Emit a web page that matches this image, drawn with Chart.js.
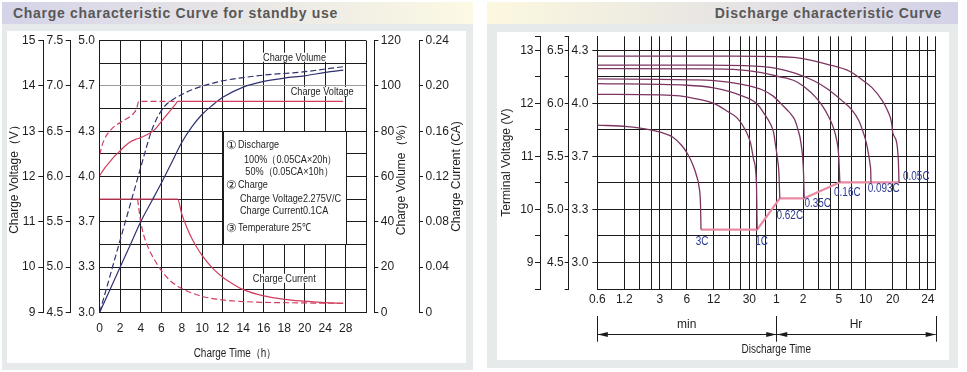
<!DOCTYPE html>
<html>
<head>
<meta charset="utf-8">
<title>Charge / discharge characteristic curves</title>
<script src="https://cdn.jsdelivr.net/npm/chart.js@4.4.1/dist/chart.umd.min.js"></script>
<style>
  html, body { margin: 0; padding: 0; background: #fff; }
  body { position: relative; width: 967px; height: 372px; overflow: hidden; font-family: 'Liberation Sans', Arial, sans-serif; }
  .frame { position: absolute; background: #e6eaea; }
  .head { position: absolute; height: 22px; line-height: 22px; font-size: 14px; font-weight: bold; color: #585858; letter-spacing: 0.7px; white-space: nowrap; }
  canvas { position: absolute; background: #fff; }
</style>
</head>
<body>
<div class="frame" style="left:2px;top:2px;width:471px;height:368px"></div>
<div class="head" style="left:2px;top:2px;width:460px;padding-left:11px;background:linear-gradient(90deg,#d4d3e8,#fcf9e4)">Charge characteristic Curve for standby use</div>
<canvas id="charge" width="459" height="332" style="left:7px;top:31px"></canvas>

<div class="frame" style="left:487px;top:2px;width:471px;height:366px"></div>
<div class="head" style="left:487px;top:2px;width:455px;padding-right:16px;text-align:right;background:linear-gradient(90deg,#fcf8df,#d2d1e7)">Discharge characteristic Curve</div>
<canvas id="discharge" width="452" height="328" style="left:497px;top:32px"></canvas>

<script>
// ---------- charge sheet: values ----------
const chargeHourTicks  = [0, 2, 4, 6, 8, 10, 12, 14, 16, 18, 20, 24, 28, 32];
const chargeHourLabels = ['0', '2', '4', '6', '8', '10', '12', '14', '16', '18', '20', '24', '28', ''];
const packVoltTicks  = [9, 10, 11, 12, 13, 14, 15];
const halfPackTicks  = [4.5, 5.0, 5.5, 6.0, 6.5, 7.0, 7.5];
const cellVoltLabels = ['3.0', '3.3', '3.7', '4.0', '4.3', '4.7', '5.0'];
const volumeTicks    = [0, 20, 40, 60, 80, 100, 120];
const currentTicks   = [0, 0.04, 0.08, 0.12, 0.16, 0.20, 0.24];
const currentLabels  = ['0', '0.04', '0.08', '0.12', '0.16', '0.20', '0.24'];

// charge voltage, 12 V block (solid = after 100% discharge, dashed = after 50%)
const voltFullH = [0, 0.5, 1, 1.5, 2, 2.5, 3, 3.5, 4, 4.5, 5, 5.5, 6, 6.5, 7, 7.4, 7.6, 27.5];
const voltFull  = [12.02, 12.19, 12.33, 12.46, 12.57, 12.68, 12.77, 12.82, 12.86, 12.91, 12.97, 13.07, 13.21, 13.35, 13.49, 13.6, 13.66, 13.66];
const voltHalfH = [0, 0.25, 0.5, 0.75, 1, 1.5, 2, 2.5, 3, 3.4, 3.6, 3.8, 7.6];
const voltHalf  = [12.48, 12.7, 12.84, 12.94, 13.01, 13.12, 13.19, 13.26, 13.33, 13.42, 13.5, 13.66, 13.66];
// charge volume, %
const volFullH = [0, 1, 2, 3, 4, 5, 6, 7, 8, 9, 10, 11, 12, 14, 16, 18, 20, 24, 27.5];
const volFull  = [0, 10, 20, 30, 40, 48.5, 57, 66, 75, 82, 87.5, 91.5, 95, 99.5, 102, 103.5, 104.5, 106, 107];
const volHalfH = [0, 1, 2, 3, 4, 4.5, 5, 5.5, 6, 6.5, 7, 8, 9, 10, 12, 14, 16, 20, 24, 27.5];
const volHalf  = [0, 16, 32, 48, 64, 72, 79.5, 85, 89, 91.8, 93.6, 96.2, 98.3, 99.9, 102.3, 103.7, 104.8, 106.3, 107.5, 108.5];
// charge current, CA
const curFullH = [0, 7.6, 8, 8.5, 9, 9.5, 10, 11, 12, 13, 14, 16, 18, 20, 24, 27.5];
const curFull  = [0.1, 0.1, 0.087, 0.075, 0.065, 0.057, 0.05, 0.039, 0.031, 0.025, 0.02, 0.0145, 0.0115, 0.0098, 0.0085, 0.008];
const curHalfH = [3.7, 3.8, 4, 4.3, 4.6, 5, 5.5, 6, 7, 8, 9, 10, 12, 14, 16, 20, 24, 27.5];
const curHalf  = [0.1, 0.093, 0.08, 0.068, 0.06, 0.052, 0.044, 0.037, 0.027, 0.021, 0.017, 0.014, 0.011, 0.0095, 0.0088, 0.0083, 0.008, 0.008];

// ---------- discharge sheet: minutes on the x axis, 12 V block volts ----------
const dischargeTickMinutes = [0.6, 1.2, 1.8, 2.4, 3, 4, 6, 12, 18, 24, 30, 36, 45, 60, 120, 180, 240, 300, 420, 600, 1200, 1290, 1380, 1440, 1500];
const dischargeTickText    = ['0.6', '1.2', '', '', '3', '', '6', '12', '', '', '30', '', '', '1', '2', '', '', '5', '', '10', '20', '', '', '24', ''];
const termTicks12  = [8.5, 9, 9.5, 10, 10.5, 11, 11.5, 12, 12.5, 13, 13.263];
const termLabels12 = ['', '9', '', '10', '', '11', '', '12', '', '13', ''];
const termTicks6   = [4.25, 4.5, 4.75, 5, 5.25, 5.5, 5.75, 6, 6.25, 6.5, 6.632];
const termLabels6  = ['', '4.5', '', '5.0', '', '5.5', '', '6.0', '', '6.5', ''];
const termTicks4   = [3.0, 3.333, 3.667, 4.0, 4.333];
const termLabels4  = ['3.0', '3.3', '3.7', '4.0', '4.3'];

const rateNames = ['3C', '1C', '0.62C', '0.35C', '0.16C', '0.093C', '0.05C'];
const t3C   = [0.6, 1.3, 2.2, 3.1, 4.2, 5.3, 6.2, 7.1, 7.7, 8.2, 8.55, 8.65];
const v3C   = [11.59, 11.56, 11.51, 11.45, 11.36, 11.2, 11.03, 10.82, 10.64, 10.44, 10.07, 9.62];
const t1C   = [0.6, 3, 5, 7.4, 12, 17.4, 22, 27, 31, 33.5, 36, 36.7];
const v1C   = [12.17, 12.16, 12.14, 12.09, 12.0, 11.84, 11.72, 11.5, 11.25, 10.94, 10.5, 9.62];
const t062C = [0.6, 6, 12, 24, 36, 45, 52, 56, 59, 62, 64.2, 65.7];
const v062C = [12.37, 12.34, 12.29, 12.15, 12.0, 11.78, 11.6, 11.45, 11.2, 10.95, 10.69, 10.21];
const t035C = [0.6, 8, 17.4, 30, 41, 55, 69, 80, 90, 97, 105, 113, 121, 123];
const v035C = [12.46, 12.44, 12.4, 12.33, 12.26, 12.14, 11.98, 11.87, 11.77, 11.68, 11.5, 11.26, 10.69, 10.21];
const t016C = [0.6, 10, 20, 41, 61, 97, 130, 162, 195, 229, 260, 283, 296, 303, 308];
const v016C = [12.655, 12.65, 12.64, 12.58, 12.51, 12.42, 12.28, 12.13, 11.96, 11.76, 11.55, 11.32, 11.1, 10.82, 10.51];
const t0093C = [0.6, 10, 26.7, 60, 97, 160, 229, 320, 417, 500, 563, 610, 640, 670, 683, 686];
const v0093C = [12.72, 12.72, 12.71, 12.66, 12.57, 12.42, 12.26, 12.06, 11.88, 11.68, 11.45, 11.25, 11.07, 10.85, 10.69, 10.51];
const t005C = [0.6, 20, 60, 100, 229, 400, 539, 700, 902, 1060, 1167, 1200, 1225, 1236, 1240];
const v005C = [12.89, 12.89, 12.88, 12.86, 12.73, 12.6, 12.45, 12.3, 12.07, 11.85, 11.63, 11.45, 11.26, 10.9, 10.51];
// end-of-discharge voltage for each rate
const cutoffMinutes = [8.65, 36.7, 65.7, 123, 308, 686, 1240];
const cutoffVolts   = [9.62, 9.62, 10.21, 10.21, 10.51, 10.51, 10.51];

const FONT = "'Liberation Sans', Arial, sans-serif";
const GRID = '#1b1b1b';
const INK = '#1e1e1e';
const RED = '#d23c5e';
const NAVY = '#2f3270';
const PLUM = '#7c3560';
const SQUEEZE = 0.83;   // the sheet uses a condensed face for its notes

Chart.defaults.font.family = FONT;
Chart.defaults.font.size = 12;
Chart.defaults.color = INK;

// both sheets use time axes that are not uniform: the charge one widens to 4 h per
// division after 20 h, the discharge one is logarithmic but stretched after 20 h
function knotScale(id, knotValues, knotShares, useLog) {
  const f = useLog ? Math.log10 : v => v;
  return class extends Chart.LinearScale {
    static id = id;
    static defaults = Chart.LinearScale.defaults;
    getPixelForValue(value) {
      let i = 1;
      while (i < knotValues.length - 1 && value > knotValues[i]) i++;
      const t = (f(value) - f(knotValues[i - 1])) / (f(knotValues[i]) - f(knotValues[i - 1]));
      return this.getPixelForDecimal(knotShares[i - 1] + t * (knotShares[i] - knotShares[i - 1]));
    }
  };
}
Chart.register(
  knotScale('chargeTime', [0, 20, 32], [0, 10 / 13, 1], false),
  knotScale('dischargeTime', [0.6, 1200, 1500], [0, 0.8729, 1], true)
);

function curve(xs, ys, axis, color, width, dashed) {
  return {
    data: xs.map((x, i) => ({ x, y: ys[i] })),
    yAxisID: axis,
    borderColor: color,
    borderWidth: width,
    borderDash: dashed ? [6, 3] : [],
    pointRadius: 0,
    fill: false,
    cubicInterpolationMode: 'monotone'
  };
}

function fixedTicks(values) {
  return axis => { axis.ticks = values.map(value => ({ value })); };
}

function sideAxis(position, weight, width, extra) {
  return Object.assign({
    type: 'linear', axis: 'y', position, weight,
    afterFit: a => { a.width = width; a.paddingTop = 0; a.paddingBottom = 0; },
    border: { color: GRID },
    grid: { drawOnChartArea: false, tickLength: 5, tickColor: GRID }
  }, extra);
}

// condensed text: draw squeezed horizontally around the anchor
function squeezed(ctx, text, x, y) {
  ctx.save();
  ctx.translate(x, y);
  ctx.scale(SQUEEZE, 1);
  ctx.fillText(text, 0, 0);
  ctx.restore();
}

// ---------------- charge chart ----------------
const chargeNotes = {
  id: 'chargeNotes',
  beforeDatasetsDraw(chart) {
    const { ctx, scales: { x, vol } } = chart;
    const l = Math.round(x.getPixelForValue(12)), r = Math.round(x.getPixelForValue(28));
    const t = Math.round(vol.getPixelForValue(80)), b = Math.round(vol.getPixelForValue(30));
    ctx.save();
    ctx.fillStyle = '#fff';
    ctx.fillRect(l, t, r - l, b - t);
    ctx.strokeStyle = GRID;
    ctx.lineWidth = 1;
    ctx.strokeRect(l + 0.5, t + 0.5, r - l, b - t);
    ctx.fillStyle = INK;
    ctx.textBaseline = 'middle';
    ctx.font = '11.5px ' + FONT;
    [['①', 3.3, 14.4], ['②', 3.3, 54.4], ['③', 3.3, 97.4]].forEach(([text, dx, dy]) => ctx.fillText(text, l + dx, t + dy));
    ctx.font = '11px ' + FONT;
    [
      ['Discharge', 15, 14.4],
      ['100%（0.05CA×20h）', 21, 29.4],
      ['50%（0.05CA×10h）', 22.3, 41],
      ['Charge', 15, 54.4],
      ['Charge Voltage2.275V/C', 17, 68.4],
      ['Charge Current0.1CA', 17, 80],
      ['Temperature 25℃', 15, 97.4]
    ].forEach(([text, dx, dy]) => squeezed(ctx, text, l + dx, t + dy));
    ctx.restore();
  },
  afterDatasetsDraw(chart) {
    const { ctx, scales: { x, vol } } = chart;
    ctx.save();
    ctx.font = '11px ' + FONT;
    ctx.textAlign = 'center';
    ctx.textBaseline = 'middle';
    [['Charge Volume', 19, 112.5], ['Charge Voltage', 23.4, 97.3], ['Charge Current', 18, 14.8]].forEach(([text, h, v]) => {
      const px = x.getPixelForValue(h), py = vol.getPixelForValue(v);
      const w = ctx.measureText(text).width * SQUEEZE;
      ctx.fillStyle = '#fff';
      ctx.fillRect(px - w / 2 - 1, py - 5, w + 2, 9);
      ctx.fillStyle = INK;
      squeezed(ctx, text, px, py);
    });
    ctx.restore();
  },
  afterDraw(chart) {
    const { ctx, chartArea, scales: { vol, cur } } = chart;
    const midY = (chartArea.top + chartArea.bottom) / 2;
    ctx.save();
    ctx.font = '12px ' + FONT;
    ctx.fillStyle = INK;
    ctx.textAlign = 'center';
    ctx.textBaseline = 'middle';
    [['Charge Volume（%）', vol.right - 17.3], ['Charge Current (CA)', cur.right - 9.3]].forEach(([text, px]) => {
      ctx.save();
      ctx.translate(px, midY);
      ctx.rotate(-Math.PI / 2);
      ctx.fillText(text, 0, 0);
      ctx.restore();
    });
    squeezed(ctx, 'Charge Time（h）', (chartArea.left + chartArea.right) / 2 + 2, chartArea.bottom + 41.7);
    ctx.restore();
  }
};

new Chart(document.getElementById('charge'), {
  type: 'line',
  data: {
    datasets: [
      curve(voltFullH, voltFull, 'y12', RED, 1.2, false),
      curve(voltHalfH, voltHalf, 'y12', RED, 1.2, true),
      curve(volFullH, volFull, 'vol', NAVY, 1.2, false),
      curve(volHalfH, volHalf, 'vol', NAVY, 1.2, true),
      curve(curFullH, curFull, 'cur', RED, 1.2, false),
      curve(curHalfH, curHalf, 'cur', RED, 1.2, true)
    ]
  },
  options: {
    responsive: false,
    animation: false,
    devicePixelRatio: 1,
    events: [],
    layout: { padding: { top: 9.7, left: 0, right: 0, bottom: 0 } },
    plugins: { legend: { display: false }, tooltip: { enabled: false } },
    scales: {
      x: {
        type: 'chargeTime', min: 0, max: 32,
        afterBuildTicks: fixedTicks(chargeHourTicks),
        afterFit: a => { a.height = 50.7; a.paddingLeft = 0; a.paddingRight = 0; },
        ticks: { autoSkip: false, maxRotation: 0, padding: 9.5, callback: (v, i) => chargeHourLabels[i] },
        grid: { color: GRID, drawTicks: false },
        border: { color: GRID }
      },
      y12: sideAxis('left', 3, 36.3, {
        min: 9, max: 15,
        afterBuildTicks: fixedTicks(packVoltTicks),
        ticks: { padding: 3, callback: v => String(v) },
        title: { display: true, text: 'Charge Voltage（V）', padding: { top: 0.8, bottom: 0 } }
      }),
      y6: sideAxis('left', 2, 27.4, {
        min: 4.5, max: 7.5,
        afterBuildTicks: fixedTicks(halfPackTicks),
        ticks: { padding: 2.5, callback: v => v.toFixed(1) }
      }),
      y4: sideAxis('left', 1, 29, {
        min: 3, max: 5,
        afterBuildTicks: fixedTicks(Array.from({ length: 13 }, (_, j) => 3 + j / 6)),
        ticks: { padding: 4.7, callback: (v, i) => (i % 2 ? '' : cellVoltLabels[i / 2]) },
        grid: {
          drawOnChartArea: true, drawTicks: false,
          color: c => (Math.abs(c.tick.value - 14 / 3) < 1e-6 ? '#9c9c9c' : GRID)
        }
      }),
      gapR: {
        type: 'linear', axis: 'y', position: 'right', weight: 0,
        afterFit: a => { a.width = 8; a.paddingTop = 0; a.paddingBottom = 0; },
        ticks: { display: false }, grid: { display: false }, border: { display: false }
      },
      vol: sideAxis('right', 1, 44.7, {
        min: 0, max: 120,
        afterBuildTicks: fixedTicks(volumeTicks),
        ticks: { padding: 2.5, callback: v => String(v) },
        grid: { drawOnChartArea: false, tickLength: 4, tickColor: GRID }
      }),
      cur: sideAxis('right', 2, 47, {
        min: 0, max: 0.24,
        afterBuildTicks: fixedTicks(currentTicks),
        ticks: { padding: 2.5, callback: (v, i) => currentLabels[i] },
        grid: { drawOnChartArea: false, tickLength: 4, tickColor: GRID }
      })
    }
  },
  plugins: [chargeNotes]
});

// ---------------- discharge chart ----------------
const rateLabelShift = [[1, 12.5], [4.4, 12.4], [10, 17.3], [13.5, 5.6], [7.5, 10], [12.8, 6.5], [17.3, -5.5]];

const dischargeNotes = {
  id: 'dischargeNotes',
  afterDatasetsDraw(chart) {
    const ctx = chart.ctx;
    const ends = chart.getDatasetMeta(chart.data.datasets.length - 1).data;
    ctx.save();
    ctx.font = '12px ' + FONT;
    ctx.fillStyle = '#2b3990';
    ctx.textAlign = 'center';
    ctx.textBaseline = 'middle';
    rateNames.forEach((name, i) => {
      squeezed(ctx, name, ends[i].x + rateLabelShift[i][0], ends[i].y + rateLabelShift[i][1]);
    });
    ctx.restore();
  },
  afterDraw(chart) {
    const { ctx, chartArea, scales: { x } } = chart;
    const a = x.getPixelForValue(0.6), m = x.getPixelForValue(60), e = x.getPixelForValue(1500);
    const base = chartArea.bottom;
    const y0 = base + 27, y1 = base + 52.7, ya = Math.round(base + 45.3) + 0.5;
    ctx.save();
    ctx.strokeStyle = GRID;
    ctx.fillStyle = GRID;
    ctx.lineWidth = 1;
    ctx.beginPath();
    [a, m, e].forEach(px => {
      const p = Math.round(px) + 0.5;
      ctx.moveTo(p, y0); ctx.lineTo(p, y1);
    });
    ctx.moveTo(a, ya);
    ctx.lineTo(e, ya);
    ctx.stroke();
    const head = (tip, dir) => {
      ctx.beginPath();
      ctx.moveTo(tip, ya);
      ctx.lineTo(tip - dir * 10, ya - 2.6);
      ctx.lineTo(tip - dir * 10, ya + 2.6);
      ctx.closePath();
      ctx.fill();
    };
    head(a + 0.5, -1); head(m, 1); head(m + 1, -1); head(e, 1);
    ctx.font = '12px ' + FONT;
    ctx.textAlign = 'center';
    ctx.textBaseline = 'middle';
    ctx.fillStyle = INK;
    ctx.fillText('min', (a + m) / 2, base + 36);
    ctx.fillText('Hr', (m + e) / 2, base + 36);
    squeezed(ctx, 'Discharge Time', m, base + 61);
    ctx.restore();
  }
};

const cutoffLine = curve(cutoffMinutes, cutoffVolts, 'y', '#e98aa2', 2.2, false);
cutoffLine.cubicInterpolationMode = 'default';
cutoffLine.tension = 0;

new Chart(document.getElementById('discharge'), {
  type: 'line',
  data: {
    datasets: [
      curve(t3C, v3C, 'y', PLUM, 1.3, false),
      curve(t1C, v1C, 'y', PLUM, 1.3, false),
      curve(t062C, v062C, 'y', PLUM, 1.3, false),
      curve(t035C, v035C, 'y', PLUM, 1.3, false),
      curve(t016C, v016C, 'y', PLUM, 1.3, false),
      curve(t0093C, v0093C, 'y', PLUM, 1.3, false),
      curve(t005C, v005C, 'y', PLUM, 1.3, false),
      cutoffLine
    ]
  },
  options: {
    responsive: false,
    animation: false,
    devicePixelRatio: 1,
    events: [],
    layout: { padding: { top: 4.3, left: 0, right: 13.3, bottom: 0 } },
    plugins: { legend: { display: false }, tooltip: { enabled: false } },
    scales: {
      x: {
        type: 'dischargeTime', min: 0.6, max: 1500,
        afterBuildTicks: fixedTicks(dischargeTickMinutes),
        afterFit: a => { a.height = 71; a.paddingLeft = 0; a.paddingRight = 0; },
        ticks: { autoSkip: false, maxRotation: 0, padding: 3.8, callback: (v, i) => dischargeTickText[i] },
        grid: { color: GRID, drawTicks: false },
        border: { color: GRID }
      },
      y: sideAxis('left', 3, 43, {
        min: 8.5, max: 13.263,
        afterBuildTicks: fixedTicks(termTicks12),
        ticks: { padding: 1.5, callback: (v, i) => termLabels12[i] },
        grid: {
          drawOnChartArea: true, tickLength: 5, tickColor: GRID,
          color: c => (c.tick.value > 13.1 ? 'rgba(0,0,0,0)' : GRID)
        },
        title: { display: true, text: 'Terminal Voltage (V)', padding: { top: 2.8, bottom: 0 } }
      }),
      y6: sideAxis('left', 2, 28.7, {
        min: 4.25, max: 6.632,
        afterBuildTicks: fixedTicks(termTicks6),
        ticks: { padding: 1, callback: (v, i) => termLabels6[i] },
        grid: { drawOnChartArea: false, tickLength: 4, tickColor: GRID }
      }),
      y4: sideAxis('left', 1, 28.6, {
        min: 8.5 / 3, max: 13.263 / 3,
        afterBuildTicks: fixedTicks(termTicks4),
        ticks: { padding: 4, callback: (v, i) => termLabels4[i] }
      })
    }
  },
  plugins: [dischargeNotes]
});
</script>
</body>
</html>
